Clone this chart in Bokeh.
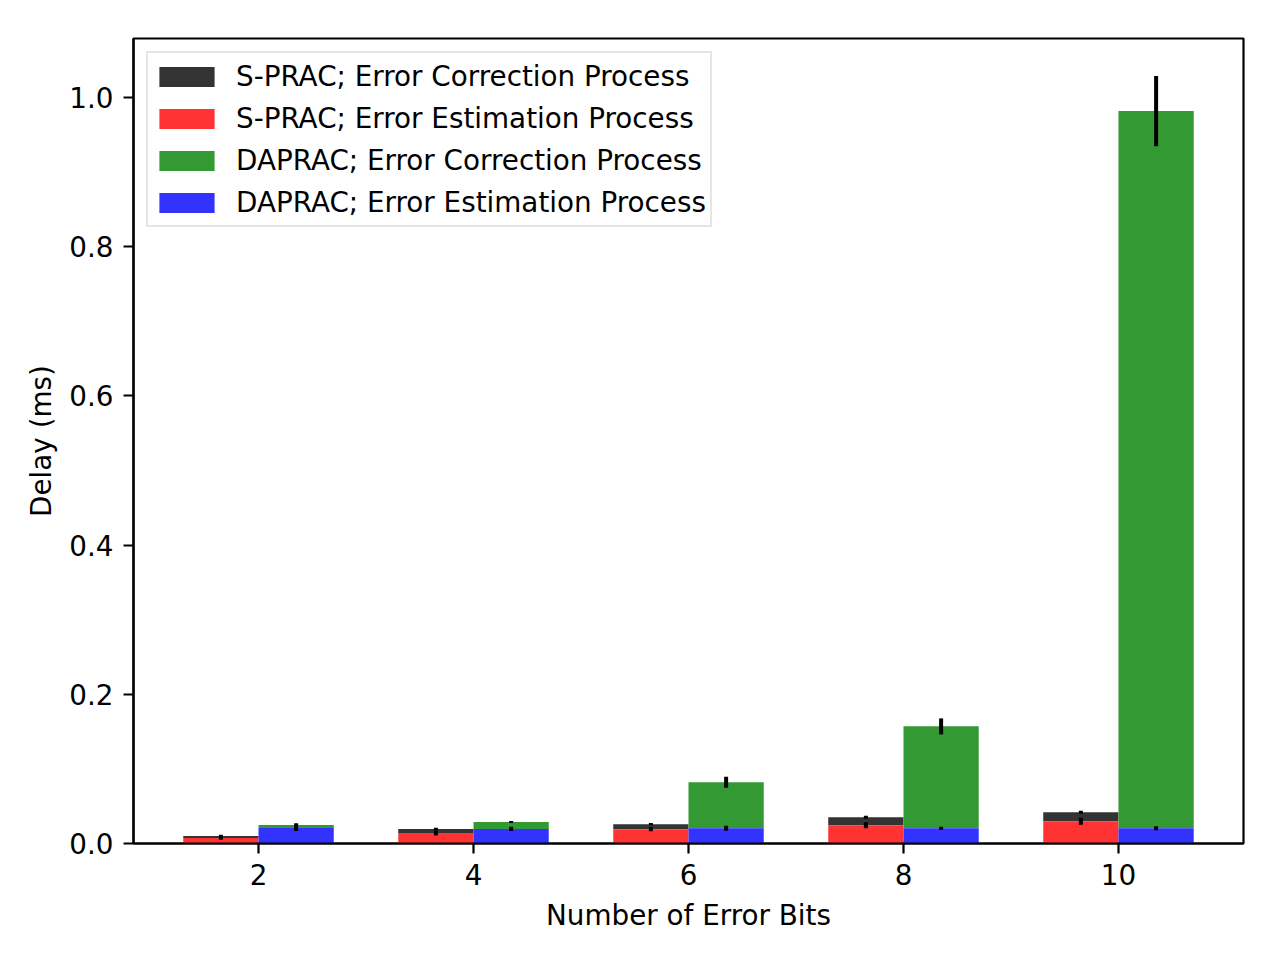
from bokeh.plotting import figure
from bokeh.models import Range1d, FixedTicker, PrintfTickFormatter, Legend, LegendItem
from bokeh.embed import file_html
from bokeh.resources import INLINE

# ---- data ----
error_bits = [2, 4, 6, 8, 10]
sprac_estimation = [0.0074, 0.0141, 0.0192, 0.0245, 0.0299]
sprac_correction = [0.0026, 0.0053, 0.0067, 0.0108, 0.0121]
daprac_estimation = [0.0207, 0.0196, 0.0205, 0.0205, 0.0205]
daprac_correction = [0.0041, 0.0092, 0.0617, 0.1365, 0.9612]

sprac_estimation_err = [0.0025, 0.0033, 0.0028, 0.0040, 0.0047]
sprac_correction_err = [0.0018, 0.0018, 0.0015, 0.0020, 0.0020]
daprac_estimation_err = [0.0040, 0.0027, 0.0034, 0.0020, 0.0027]
daprac_correction_err = [0.0025, 0.0013, 0.0074, 0.0107, 0.0470]

y_ticks = [0.0, 0.2, 0.4, 0.6, 0.8, 1.0]
x_ticks = [2, 4, 6, 8, 10]

labels = ["S-PRAC; Error Correction Process", "S-PRAC; Error Estimation Process",
          "DAPRAC; Error Correction Process", "DAPRAC; Error Estimation Process"]
colors = ["#333333", "#ff3333", "#339933", "#3333ff"]

offset = 0.35
bar_w = 0.7

x_s = [x - offset for x in error_bits]
x_d = [x + offset for x in error_bits]

s_est_top = sprac_estimation
s_cor_top = [a + b for a, b in zip(sprac_estimation, sprac_correction)]
d_est_top = daprac_estimation
d_cor_top = [a + b for a, b in zip(daprac_estimation, daprac_correction)]

FONT = "DejaVu Sans"
FS = "27.8px"

p = figure(width=1272, height=952, output_backend="svg", toolbar_location=None,
           x_range=Range1d(0.837, 11.163), y_range=Range1d(0, 1.079),
           min_border_left=133, min_border_right=29, min_border_top=38, min_border_bottom=109)
p.grid.visible = False
p.outline_line_color = "black"
p.outline_line_width = 2.2
p.background_fill_color = "white"
p.border_fill_color = "white"

r_sc = p.vbar(x=x_s, width=bar_w, bottom=s_est_top, top=s_cor_top, fill_color=colors[0], line_color=None)
r_se = p.vbar(x=x_s, width=bar_w, bottom=0, top=s_est_top, fill_color=colors[1], line_color=None)
r_dc = p.vbar(x=x_d, width=bar_w, bottom=d_est_top, top=d_cor_top, fill_color=colors[2], line_color=None)
r_de = p.vbar(x=x_d, width=bar_w, bottom=0, top=d_est_top, fill_color=colors[3], line_color=None)

def err(xs, tops, errs):
    p.segment(x0=xs, x1=xs, y0=[t - e for t, e in zip(tops, errs)],
              y1=[t + e for t, e in zip(tops, errs)], line_color="black", line_width=4)

err(x_s, s_est_top, sprac_estimation_err)
err(x_s, s_cor_top, sprac_correction_err)
err(x_d, d_est_top, daprac_estimation_err)
err(x_d, d_cor_top, daprac_correction_err)

for ax in (p.xaxis[0], p.yaxis[0]):
    ax.axis_line_width = 2.2
    ax.major_tick_line_width = 2.2
    ax.major_tick_out = 10
    ax.major_tick_in = 0
    ax.minor_tick_out = 0
    ax.minor_tick_in = 0
    ax.major_label_standoff = 10
    ax.major_label_text_font = FONT
    ax.major_label_text_font_size = FS
    ax.major_label_text_color = "black"
    ax.axis_label_text_font = FONT
    ax.axis_label_text_font_size = FS
    ax.axis_label_text_font_style = "normal"
    ax.axis_label_text_color = "black"

p.xaxis.axis_label_standoff = 11
p.yaxis.axis_label_standoff = 8
p.xaxis.ticker = FixedTicker(ticks=x_ticks)
p.yaxis.ticker = FixedTicker(ticks=y_ticks)
p.yaxis.formatter = PrintfTickFormatter(format="%.1f")
p.xaxis.axis_label = "Number of Error Bits"
p.yaxis.axis_label = "Delay (ms)"

legend = Legend(items=[LegendItem(label=labels[0], renderers=[r_sc]),
                       LegendItem(label=labels[1], renderers=[r_se]),
                       LegendItem(label=labels[2], renderers=[r_dc]),
                       LegendItem(label=labels[3], renderers=[r_de])],
                location="top_left")
legend.margin = 13
legend.padding = 4
legend.spacing = 4
legend.glyph_width = 69
legend.glyph_height = 25
legend.label_height = 38
legend.label_standoff = 15
legend.label_text_font = FONT
legend.label_text_font_size = FS
legend.label_text_color = "black"
legend.border_line_color = "#cccccc"
legend.border_line_width = 2
legend.background_fill_alpha = 0.8
p.add_layout(legend)

open("out.html", "w").write(file_html(p, INLINE))
